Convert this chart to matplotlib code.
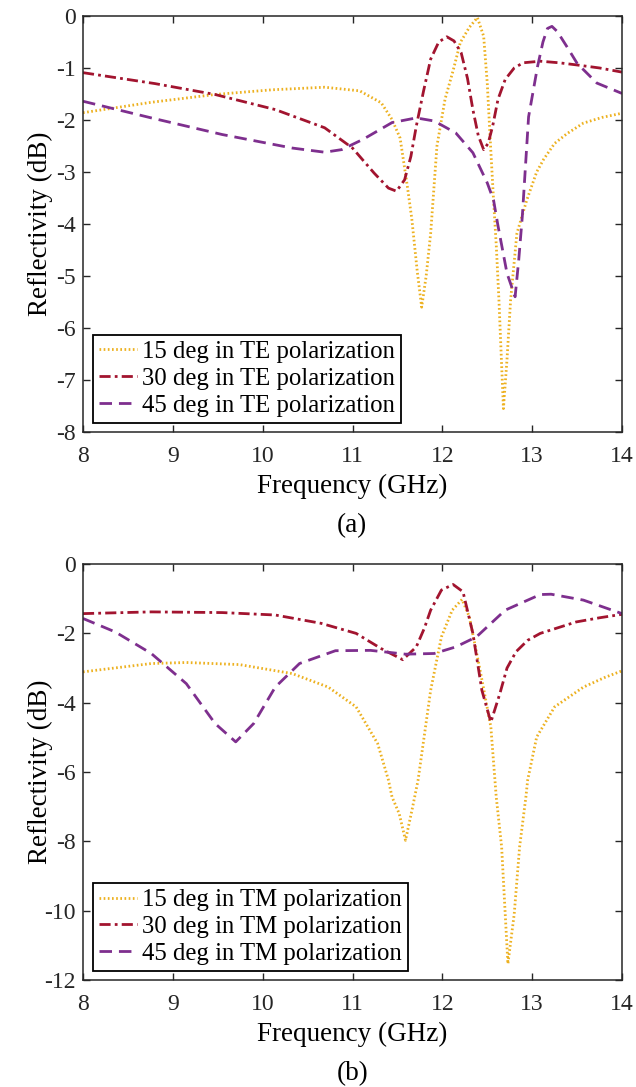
import matplotlib
matplotlib.use("Agg")
import matplotlib.pyplot as plt

plt.rcParams["font.family"] = ["Liberation Serif", "DejaVu Serif"]
plt.rcParams["axes.unicode_minus"] = False

# ---- (a) TE polarization ----
te15_f = [8.0, 8.76, 9.47, 10.1, 10.69, 11.08, 11.32, 11.44, 11.53, 11.61, 11.66, 11.72, 11.77,
          11.82, 11.87, 11.94, 12.03, 12.12, 12.20, 12.30, 12.39, 12.46, 12.50, 12.54, 12.57,
          12.60, 12.63, 12.68, 12.72, 12.76, 12.83, 12.94, 13.05, 13.13, 13.25, 13.39, 13.57,
          13.78, 14.0]
te15_v = [-1.86, -1.66, -1.51, -1.42, -1.37, -1.44, -1.67, -1.99, -2.35, -3.27, -3.9, -4.9, -5.6,
          -5.0, -4.18, -2.5, -1.6, -1.05, -0.51, -0.22, -0.03, -0.39, -1.29, -2.6, -3.54,
          -4.4, -5.46, -7.55, -6.6, -5.46, -4.18, -3.54, -3.0, -2.75, -2.45, -2.26, -2.06,
          -1.95, -1.87]

te30_f = [8.0, 8.8, 9.47, 10.14, 10.69, 11.0, 11.24, 11.40, 11.49, 11.58, 11.65, 11.71, 11.79,
          11.87, 11.96, 12.05, 12.13, 12.21, 12.28, 12.34, 12.40, 12.46, 12.51, 12.56, 12.62,
          12.70, 12.80, 12.90, 13.09, 13.3, 13.49, 13.75, 14.0]
te30_v = [-1.09, -1.3, -1.51, -1.80, -2.15, -2.54, -3.02, -3.31, -3.37, -3.15, -2.7, -2.12, -1.45,
          -0.83, -0.5, -0.40, -0.48, -0.71, -1.2, -1.80, -2.3, -2.57, -2.45, -2.12, -1.6,
          -1.22, -1.0, -0.90, -0.87, -0.9, -0.94, -1.0, -1.08]

te45_f = [8.0, 8.76, 9.55, 10.33, 10.69, 10.88, 11.12, 11.44, 11.71, 11.91, 12.15, 12.34, 12.50,
          12.57, 12.62, 12.72, 12.81, 12.85, 12.89, 12.96, 13.06, 13.12, 13.17, 13.22, 13.28,
          13.39, 13.50, 13.72, 14.0]
te45_v = [-1.64, -1.96, -2.28, -2.54, -2.62, -2.57, -2.37, -2.05, -1.96, -2.02, -2.25, -2.63, -3.21,
          -3.54, -4.04, -4.95, -5.40, -4.7, -3.86, -1.94, -0.97, -0.5, -0.24, -0.2, -0.30,
          -0.6, -0.91, -1.29, -1.49]

# ---- (b) TM polarization ----
tm15_f = [8.0, 8.76, 9.15, 9.74, 10.33, 10.73, 11.04, 11.28, 11.40, 11.44, 11.52, 11.59, 11.67,
          11.73, 11.75, 11.87, 11.99, 12.11, 12.22, 12.30, 12.42, 12.54, 12.60, 12.66, 12.70,
          12.73, 12.80, 12.86, 12.93, 12.95, 13.05, 13.25, 13.57, 13.8, 14.0]
tm15_v = [-3.11, -2.87, -2.84, -2.90, -3.16, -3.55, -4.12, -5.18, -6.23, -6.72, -7.2, -7.97, -7.0,
          -6.23, -5.86, -3.64, -2.10, -1.33, -1.02, -1.52, -3.06, -4.70, -6.72, -8.16, -10.1,
          -11.53, -10.1, -8.16, -6.72, -6.23, -4.99, -4.12, -3.55, -3.28, -3.08]

tm30_f = [8.0, 8.76, 9.55, 10.14, 10.65, 11.04, 11.32, 11.56, 11.71, 11.80, 11.87, 11.99, 12.12,
          12.23, 12.34, 12.44, 12.54, 12.64, 12.72, 12.82, 12.95, 13.09, 13.49, 13.75, 14.0]
tm30_v = [-1.43, -1.38, -1.40, -1.47, -1.71, -2.0, -2.44, -2.76, -2.39, -1.85, -1.33, -0.75, -0.59,
          -0.80, -2.0, -3.64, -4.56, -3.74, -3.0, -2.53, -2.2, -2.0, -1.67, -1.55, -1.45]

tm45_f = [8.0, 8.36, 8.76, 9.15, 9.47, 9.70, 9.90, 10.14, 10.41, 10.81, 11.20, 11.59, 11.91,
          12.15, 12.38, 12.70, 13.09, 13.21, 13.57, 14.0]
tm45_v = [-1.57, -1.96, -2.58, -3.45, -4.60, -5.13, -4.60, -3.55, -2.87, -2.50, -2.49, -2.60, -2.58,
          -2.39, -2.10, -1.33, -0.88, -0.87, -1.04, -1.43]

angles = ["15", "30", "45"]
col_yel = "#EDB120"
col_red = "#A2142F"
col_pur = "#7E2F8E"

fig = plt.figure(figsize=(6.36, 10.87), dpi=100)
ax1 = fig.add_axes([0.1305, 0.6026, 0.8475, 0.3827])
ax2 = fig.add_axes([0.1305, 0.0984, 0.8475, 0.3827])


def draw_panel(ax, curves, pol, ylim, yticks):
    styles = [(col_yel, (0, (0.6, 0.9))), (col_red, (0, (4, 1.5, 1, 1.5))), (col_pur, (0, (4.5, 2.5)))]
    for (f, v), ang, (c, ls) in zip(curves, angles, styles):
        ax.plot(f, v, color=c, linestyle=ls, linewidth=2.0,
                label=f"{ang} deg in {pol} polarization")
    ax.set_xlim(8, 14)
    ax.set_ylim(*ylim)
    ax.set_xticks(range(8, 15))
    ax.set_yticks(yticks)
    ax.tick_params(direction="in", top=True, right=True, length=5, width=1,
                   labelsize=17, colors="#262626")
    ax.tick_params(axis="x", pad=10)
    ax.tick_params(axis="y", pad=5)
    for s in ax.spines.values():
        s.set_color("#262626")
        s.set_linewidth(1.1)
    ax.set_xlabel("Frequency (GHz)", fontsize=19.5, labelpad=5)
    ax.set_ylabel("Reflectivity (dB)", fontsize=19.5)
    ax.yaxis.set_label_coords(-0.055, 0.5)
    leg = ax.legend(loc="lower left", bbox_to_anchor=(0.018, 0.022), borderaxespad=0,
                    fontsize=17.8, fancybox=False, framealpha=1, edgecolor="black",
                    handlelength=1.55, handletextpad=0.2, borderpad=0.25, labelspacing=0.18)
    leg.get_frame().set_linewidth(1.3)


draw_panel(ax1, [(te15_f, te15_v), (te30_f, te30_v), (te45_f, te45_v)], "TE",
           (-8, 0), range(-8, 1))
draw_panel(ax2, [(tm15_f, tm15_v), (tm30_f, tm30_v), (tm45_f, tm45_v)], "TM",
           (-12, 0), range(-12, 1, 2))

fig.text(0.554, 1 - 526 / 1087, "(a)", ha="center", va="center", fontsize=19.5)
fig.text(0.554, 1 - 1074 / 1087, "(b)", ha="center", va="center", fontsize=19.5)

fig.savefig("out.png", dpi=100)
